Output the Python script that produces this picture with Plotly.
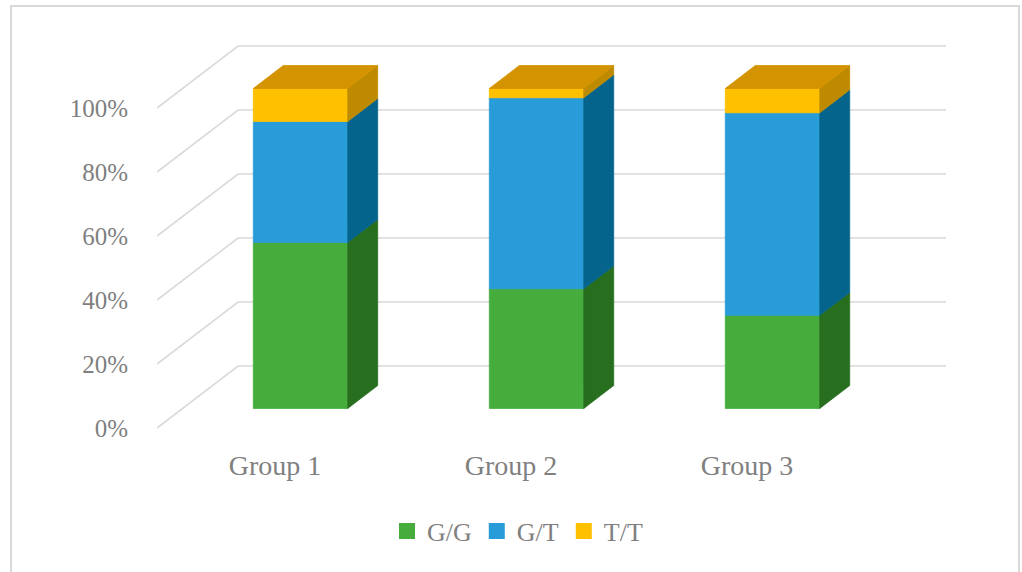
import plotly.graph_objects as go

# ---- data -------------------------------------------------------------
groups = ["Group 1", "Group 2", "Group 3"]
series_names = ["G/G", "G/T", "T/T"]
gg_pct = [51.9, 37.4, 29.1]
gt_pct = [37.8, 59.7, 63.3]
tt_pct = [10.3, 2.9, 7.6]
tick_vals = [0, 20, 40, 60, 80, 100]

# ---- styling ----------------------------------------------------------
front_colors = ["#46AD3C", "#289BD9", "#FFC000"]
side_colors = ["#276E1F", "#05648B", "#BE8B00"]
top_colors = ["#2F8A28", "#1B7DB2", "#D49300"]
text_color = "#7F7F7F"
grid_color = "#D9D9D9"
font_family = "Liberation Serif"

# oblique projection of the depth axis (fraction 0..1 of the floor depth)
DX = 81 / 236      # horizontal shift in category units at full depth
DY = 62 / 3.2      # vertical shift in percent units at full depth
BAR_W = 0.40       # bar width in category units
D_FRONT, D_BACK = 0.315, 0.685


def proj(x, v, d):
    return x + d * DX, v + d * DY


def poly(points):
    xs, ys = [], []
    for x, v, d in points:
        px, py = proj(x, v, d)
        xs.append(px)
        ys.append(py)
    xs.append(xs[0])
    ys.append(ys[0])
    return xs, ys


fig = go.Figure()

# ---- walls: back-wall gridlines and side-wall diagonals ----------------
x_left, x_right = 0.5, len(groups) + 0.5
gx, gy = [], []
for v in tick_vals:
    for x, vv, d in [(x_left, v, 0), (x_left, v, 1), (x_right, v, 1)]:
        px, py = proj(x, vv, d)
        gx.append(px)
        gy.append(py)
    gx.append(None)
    gy.append(None)
fig.add_trace(go.Scatter(x=gx, y=gy, mode="lines",
                         line=dict(color=grid_color, width=1.6),
                         hoverinfo="skip", showlegend=False))

# ---- stacked 3-D columns ----------------------------------------------
series = [gg_pct, gt_pct, tt_pct]
for gi, name in enumerate(groups):
    c = gi + 1
    xl, xr = c - BAR_W / 2, c + BAR_W / 2
    base = 0.0
    for si, vals in enumerate(series):
        lo, hi = base, base + vals[gi]
        base = hi
        faces = [
            ([(xl, lo, D_FRONT), (xr, lo, D_FRONT), (xr, hi, D_FRONT), (xl, hi, D_FRONT)],
             front_colors[si]),
            ([(xr, lo, D_FRONT), (xr, lo, D_BACK), (xr, hi, D_BACK), (xr, hi, D_FRONT)],
             side_colors[si]),
        ]
        if si == len(series) - 1:
            faces.append(([(xl, hi, D_FRONT), (xr, hi, D_FRONT), (xr, hi, D_BACK), (xl, hi, D_BACK)],
                          top_colors[si]))
        for pts, col in faces:
            xs, ys = poly(pts)
            fig.add_trace(go.Scatter(x=xs, y=ys, mode="lines", fill="toself",
                                     fillcolor=col, line=dict(color=col, width=0.8),
                                     hoverinfo="skip", showlegend=False))

# ---- legend entries ----------------------------------------------------
for si, name in enumerate(series_names):
    fig.add_trace(go.Scatter(x=[None], y=[None], mode="markers", name=name,
                             marker=dict(symbol="square", size=16, color=front_colors[si])))

fig.update_layout(
    width=1022, height=572,
    margin=dict(l=157, r=76, t=40, b=124),
    paper_bgcolor="white", plot_bgcolor="white",
    font=dict(family=font_family, color=text_color, size=25),
    xaxis=dict(range=[x_left, x_right + DX], tickvals=list(range(1, len(groups) + 1)),
               ticktext=groups, showgrid=False, zeroline=False, showline=False,
               ticks="", tickfont=dict(size=28), ticklabelstandoff=-2, fixedrange=True),
    yaxis=dict(range=[-6.25, 121.25], tickvals=tick_vals,
               ticktext=[f"{v}%" for v in tick_vals], showgrid=False, zeroline=False,
               showline=False, ticks="", tickfont=dict(size=25), ticklabelstandoff=28,
               fixedrange=True),
    legend=dict(orientation="h", xref="container", yref="container",
                x=387 / 1022, xanchor="left", y=1 - 531 / 572, yanchor="middle",
                font=dict(size=26), bgcolor="rgba(0,0,0,0)"),
    showlegend=True,
    shapes=[dict(type="rect", xref="paper", yref="paper",
                 x0=(11 - 157) / 789, x1=(1019 - 157) / 789,
                 y0=(448 - 590) / 408, y1=(448 - 6) / 408,
                 line=dict(color=grid_color, width=2), fillcolor="rgba(0,0,0,0)",
                 layer="below")],
)

fig.write_html("out.html")
